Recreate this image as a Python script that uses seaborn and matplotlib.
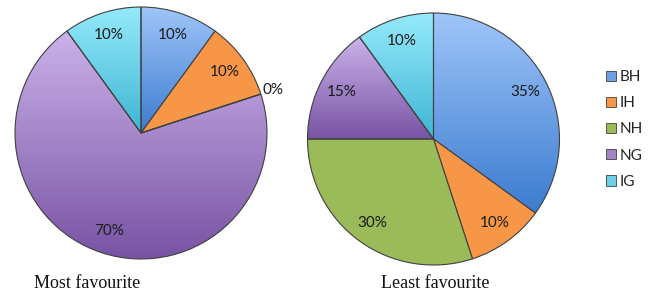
import numpy as np
import matplotlib
matplotlib.use("Agg")
import matplotlib.pyplot as plt
from matplotlib.patches import Patch
from matplotlib.colors import to_rgb
import seaborn as sns

# data
categories = ["BH", "IH", "NH", "NG", "IG"]
most_fav = [10, 10, 0, 70, 10]
least_fav = [35, 10, 30, 15, 10]
titles = ["Most favourite", "Least favourite"]

# (top, bottom) gradient colours per category
grad = {
    "BH": ("#a0c6fa", "#3b7bcf"),
    "IH": ("#f79646", "#f79646"),
    "NH": ("#9bbb59", "#9bbb59"),
    "NG": ("#cbb2ea", "#7853a4"),
    "IG": ("#95eafb", "#3fb5d3"),
}

sns.set_style("white")
plt.rcParams["font.family"] = ["Lato", "DejaVu Sans"]

W, H = 655, 293
fig = plt.figure(figsize=(W / 100, H / 100), dpi=100)
PAD = 1.04


def pie_axes(cx, cy, r):
    rr = r * PAD
    return fig.add_axes([(cx - rr) / W, (H - cy - rr) / H, 2 * rr / W, 2 * rr / H])


def gradient_img(top, bot):
    t = np.linspace(0, 1, 256)[:, None]
    a, b = np.array(to_rgb(top)), np.array(to_rgb(bot))
    return (a[None, :] * (1 - t) + b[None, :] * t)[:, None, :]


def draw_pie(ax, values):
    cols = [grad[c][0] for c in categories]
    wedges, _ = ax.pie(values, startangle=90, counterclock=False, colors=cols,
                       wedgeprops=dict(edgecolor="#404040", linewidth=0.8))
    for w, cat, v in zip(wedges, categories, values):
        top, bot = grad[cat]
        if top != bot and v > 0:
            ext = w.get_path().get_extents()
            im = ax.imshow(gradient_img(top, bot), extent=(ext.x0, ext.x1, ext.y0, ext.y1),
                           origin="upper", aspect="auto", interpolation="bilinear", zorder=0.5)
            im.set_clip_path(w)
            w.set_facecolor("none")
        mid = np.deg2rad((w.theta1 + w.theta2) / 2)
        d = 1.1 if v == 0 else 0.82
        ax.text(d * np.cos(mid), d * np.sin(mid), f"{v}%", ha="center", va="center",
                fontsize=11, color="#1a1a1a")
    ax.set_xlim(-PAD, PAD)
    ax.set_ylim(-PAD, PAD)
    ax.set_aspect("equal")
    ax.axis("off")


ax1 = pie_axes(141, 133, 126)
ax2 = pie_axes(433.5, 139, 126)
draw_pie(ax1, most_fav)
draw_pie(ax2, least_fav)

fig.text(87 / W, 1 - 284 / H, titles[0], ha="center", va="center", fontsize=13,
         family="Liberation Serif", color="#111111")
fig.text(435 / W, 1 - 284 / H, titles[1], ha="center", va="center", fontsize=13,
         family="Liberation Serif", color="#111111")

handles = [Patch(facecolor=grad[c][1] if grad[c][0] == grad[c][1] else
                 tuple((np.array(to_rgb(grad[c][0])) + np.array(to_rgb(grad[c][1]))) / 2),
                 edgecolor="#404040", linewidth=0.6) for c in categories]
fig.legend(handles, categories, loc="upper left", bbox_to_anchor=(606 / W, 1 - 70 / H),
           frameon=False, fontsize=11, handlelength=0.65, handleheight=0.65,
           handletextpad=0.25, labelspacing=0.8, borderpad=0, borderaxespad=0)

fig.savefig("out.png", dpi=100)
